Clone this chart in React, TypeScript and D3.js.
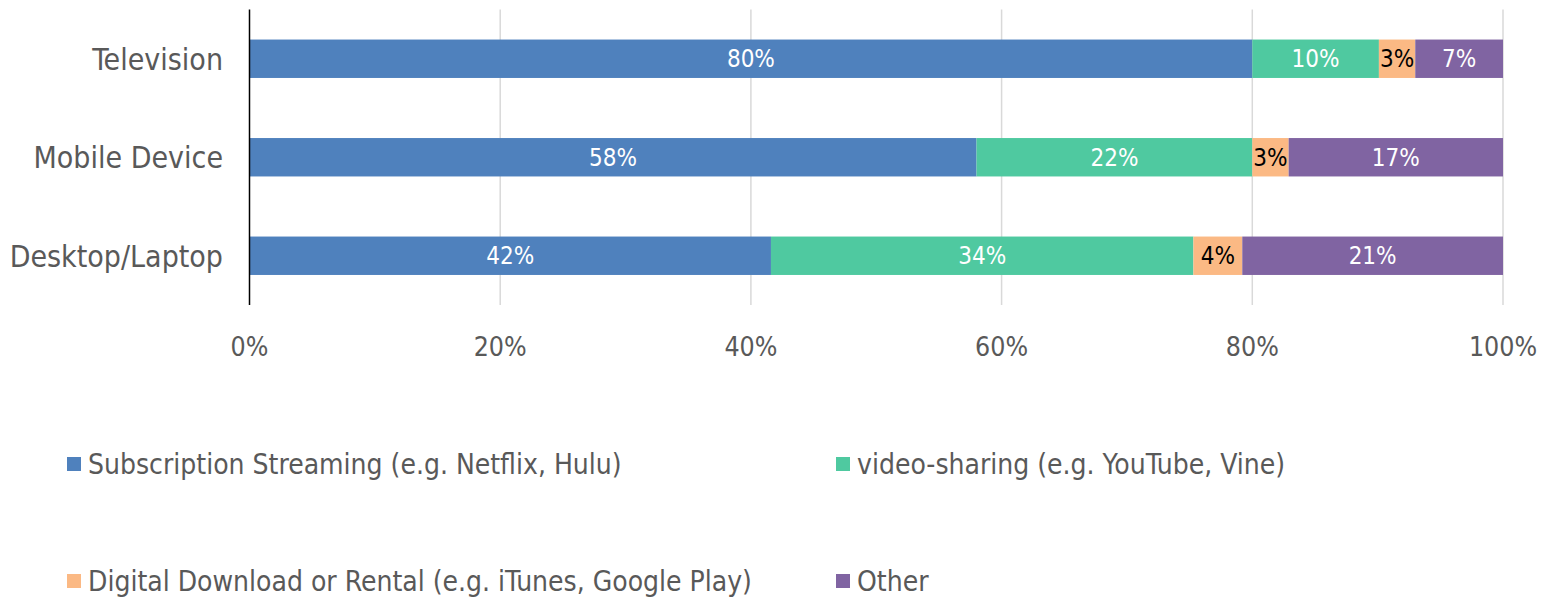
import React from "react";
import * as d3 from "d3";

const categories = ["Television", "Mobile Device", "Desktop/Laptop"];
const seriesNames = [
  "Subscription Streaming (e.g. Netflix, Hulu)",
  "video-sharing (e.g. YouTube, Vine)",
  "Digital Download or Rental (e.g. iTunes, Google Play)",
  "Other",
];
const subscription = [80, 58, 41.6];
const videoSharing = [10.1, 22, 33.7];
const digital = [2.9, 2.9, 3.9];
const other = [7, 17.1, 20.8];
const seriesColors = ["#4F81BD", "#4FC9A0", "#FBB984", "#8064A2"];
const labelColors = ["#FFFFFF", "#FFFFFF", "#000000", "#FFFFFF"];
const xTicks = [0, 20, 40, 60, 80, 100];

const FONT = "'DejaVu Sans Condensed', 'DejaVu Sans', sans-serif";

export default function App() {
  const width = 1555;
  const height = 597;
  const seriesValues = [subscription, videoSharing, digital, other];
  const x = d3.scaleLinear().domain([0, 100]).range([249.5, 1503]);
  const y = d3.scaleBand<string>().domain(categories).range([9.5, 305]).padding(0);
  const barH = y.bandwidth() * 0.39;

  const rows = categories.map((c, i) => {
    const obj: any = { cat: c };
    seriesNames.forEach((s, j) => (obj[s] = seriesValues[j][i]));
    return obj;
  });
  const stacked = d3.stack<any>().keys(seriesNames)(rows);

  const legendPos = [
    { x: 67, y: 464 },
    { x: 836, y: 464 },
    { x: 67, y: 581 },
    { x: 836, y: 581 },
  ];

  return (
    <svg width={width} height={height} style={{ position: "absolute", left: 0, top: 0 }} fontFamily={FONT}>
      <rect width={width} height={height} fill="#fff" />
      {xTicks.slice(1).map((t) => (
        <line key={t} x1={x(t)} x2={x(t)} y1={9.5} y2={305} stroke="#D9D9D9" strokeWidth={1.5} />
      ))}
      {stacked.map((layer, j) => (
        <g key={j}>
          {layer.map((d, i) => {
            const cy = (y(categories[i]) as number) + y.bandwidth() / 2;
            const x0 = x(d[0]);
            const x1 = x(d[1]);
            return (
              <g key={i}>
                <rect x={x0} y={cy - barH / 2} width={x1 - x0} height={barH} fill={seriesColors[j]} />
                <text
                  x={(x0 + x1) / 2}
                  y={cy}
                  dy="0.36em"
                  textAnchor="middle"
                  fontSize={24}
                  fill={labelColors[j]}
                >
                  {Math.round(d[1] - d[0]) + "%"}
                </text>
              </g>
            );
          })}
        </g>
      ))}
      <line x1={249.5} x2={249.5} y1={9.5} y2={305} stroke="#000" strokeWidth={1.5} />
      {categories.map((c) => (
        <text
          key={c}
          x={223}
          y={(y(c) as number) + y.bandwidth() / 2}
          dy="0.36em"
          textAnchor="end"
          fontSize={30}
          fill="#595959"
        >
          {c}
        </text>
      ))}
      {xTicks.map((t) => (
        <text key={t} x={x(t)} y={356} textAnchor="middle" fontSize={26.5} fill="#595959">
          {t + "%"}
        </text>
      ))}
      {seriesNames.map((s, j) => (
        <g key={s}>
          <rect x={legendPos[j].x} y={legendPos[j].y - 7} width={14} height={14} fill={seriesColors[j]} />
          <text x={legendPos[j].x + 21} y={legendPos[j].y} dy="0.36em" fontSize={28} fill="#595959">
            {s}
          </text>
        </g>
      ))}
    </svg>
  );
}
